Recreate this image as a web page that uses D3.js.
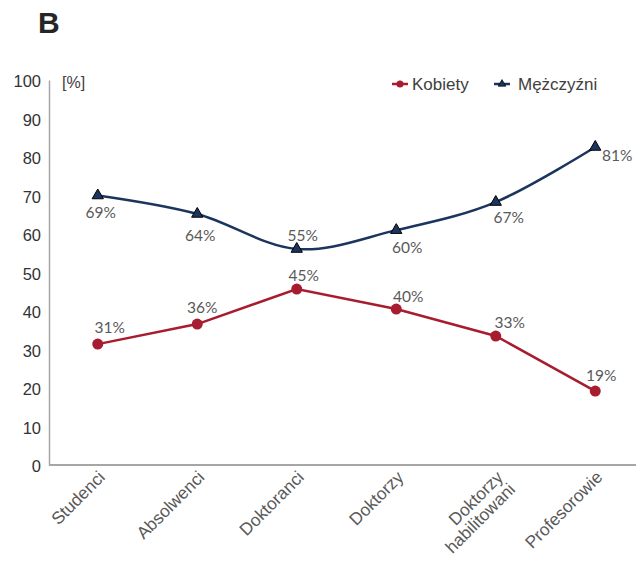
<!DOCTYPE html>
<html><head><meta charset="utf-8">
<script src="https://cdn.jsdelivr.net/npm/d3@7"></script>
<style>body{margin:0;background:#fff}svg{display:block}</style>
</head><body><svg id="c" width="636" height="563"></svg>
<script>
// ---- data ----
const categories = [["Studenci"],["Absolwenci"],["Doktoranci"],["Doktorzy"],["Doktorzy","habilitowani"],["Profesorowie"]];
const kobiety = [31.4, 36.6, 45.7, 40.5, 33.5, 19.2];
const mezczyzni = [70.0, 65.2, 56.1, 61.0, 68.3, 82.6];
const kobietyLabels = ["31%","36%","45%","40%","33%","19%"];
const mezczyzniLabels = ["69%","64%","55%","60%","67%","81%"];
const yTicks = [0,10,20,30,40,50,60,70,80,90,100];
const seriesNames = ["Kobiety","Mężczyźni"];

// ---- layout ----
const kobLabelOff = [[12,-17],[5,-17],[7,-13],[12,-13],[14,-13],[6,-16]];
const mezLabelOff = [[3,17],[3,22],[6,-13],[11,17],[13,16],[22,9]];
const RED = "#a81c2f", NAVY = "#1c355e";

const svg = d3.select("#c");
const x = d3.scalePoint().domain(d3.range(categories.length)).range([48,645]).padding(0.5);
const y = d3.scaleLinear().domain([0,100]).range([465,80]);

svg.append("text").attr("x",38).attr("y",33).attr("font-family","Liberation Sans, Arial").attr("font-weight","bold").attr("font-size",30).attr("fill","#262626").text("B");

// y axis
const ya = svg.append("g").attr("transform","translate(49,0)").call(d3.axisLeft(y).tickValues(yTicks).tickSize(0).tickPadding(8));
ya.select(".domain").attr("stroke","#a6a6a6").attr("stroke-width",1.5);
ya.selectAll("text").attr("font-family","Liberation Sans, Arial").attr("font-size",16.5).attr("fill","#333").attr("dy","0.4em");

// x axis line
const xa = svg.append("g").attr("transform","translate(0,465)").call(d3.axisBottom(x).tickSize(0).tickFormat(""));
xa.select(".domain").attr("d","M49,0H636").attr("stroke","#a6a6a6").attr("stroke-width",2);

// x labels
categories.forEach((lines,i)=>{
  const g = svg.append("g").attr("transform",`translate(${x(i)+4},474) rotate(-45)`);
  const t = g.append("text").attr("text-anchor","end").attr("font-family","Liberation Sans, Arial").attr("font-size",17.3).attr("fill","#595959");
  lines.forEach((l,j)=>{
    t.append("tspan").attr("x",0).attr("y",0).attr("dy",(j*1.0+0.35)+"em").text(l);
  });
});

svg.append("text").attr("x",62).attr("y",88).attr("font-family","Liberation Sans, Arial").attr("font-size",16).attr("fill","#404040").text("[%]");

// lines
const lineStraight = d3.line().x((d,i)=>x(i)).y(d=>y(d));
const lineSmooth = d3.line().x((d,i)=>x(i)).y(d=>y(d)).curve(d3.curveCatmullRom.alpha(0));
svg.append("path").attr("d",lineStraight(kobiety)).attr("fill","none").attr("stroke",RED).attr("stroke-width",2.5);
svg.append("path").attr("d",lineSmooth(mezczyzni)).attr("fill","none").attr("stroke",NAVY).attr("stroke-width",2.5);

svg.selectAll(".kdot").data(kobiety).join("circle").attr("cx",(d,i)=>x(i)).attr("cy",d=>y(d)).attr("r",5.5).attr("fill",RED);
const tri = d3.symbol().type(d3.symbolTriangle).size(55);
svg.selectAll(".mtri").data(mezczyzni).join("path").attr("d",tri).attr("transform",(d,i)=>`translate(${x(i)},${y(d)})`).attr("fill",NAVY).attr("stroke","#000").attr("stroke-width",1);

// data labels
const lblFont = "Lato, 'Open Sans', sans-serif";
svg.selectAll(".kl").data(kobiety).join("text").attr("x",(d,i)=>x(i)+kobLabelOff[i][0]).attr("y",(d,i)=>y(d)+kobLabelOff[i][1]).attr("dy","0.35em").attr("text-anchor","middle").attr("font-family",lblFont).attr("font-size",15.5).attr("fill","#595959").text((d,i)=>kobietyLabels[i]);
svg.selectAll(".ml").data(mezczyzni).join("text").attr("x",(d,i)=>x(i)+mezLabelOff[i][0]).attr("y",(d,i)=>y(d)+mezLabelOff[i][1]).attr("dy","0.35em").attr("text-anchor","middle").attr("font-family",lblFont).attr("font-size",15.5).attr("fill","#595959").text((d,i)=>mezczyzniLabels[i]);

// legend
const lg = svg.append("g");
lg.append("line").attr("x1",392).attr("x2",408).attr("y1",84).attr("y2",84).attr("stroke",RED).attr("stroke-width",2.5);
lg.append("circle").attr("cx",400).attr("cy",84).attr("r",3.5).attr("fill",RED);
lg.append("text").attr("x",412).attr("y",90).attr("font-family","Liberation Sans, Arial").attr("font-size",17).attr("fill","#404040").text(seriesNames[0]);
lg.append("line").attr("x1",494).attr("x2",510).attr("y1",84).attr("y2",84).attr("stroke",NAVY).attr("stroke-width",2.5);
lg.append("path").attr("d",d3.symbol().type(d3.symbolTriangle).size(25)).attr("transform","translate(502,84)").attr("fill",NAVY).attr("stroke","#000").attr("stroke-width",0.7);
lg.append("text").attr("x",518).attr("y",90).attr("font-family","Liberation Sans, Arial").attr("font-size",17).attr("fill","#404040").text(seriesNames[1]);
</script></body></html>
